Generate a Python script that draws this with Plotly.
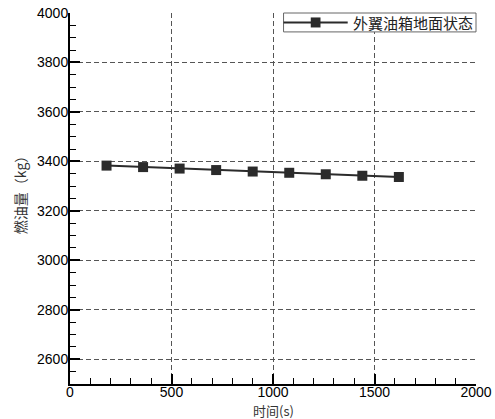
import plotly.graph_objects as go

# Fuel quantity of the outer-wing tank, ground condition
time_s = [180, 360, 540, 720, 900, 1080, 1260, 1440, 1620]
fuel_kg = [3383, 3377, 3371, 3365, 3359, 3354, 3348, 3342, 3337]
series_name = "外翼油箱地面状态"

x_ticks = [0, 500, 1000, 1500, 2000]
y_ticks = [2600, 2800, 3000, 3200, 3400, 3600, 3800, 4000]

mark_color = "#2b2b2b"

fig = go.Figure()
fig.add_trace(go.Scatter(
    x=time_s, y=fuel_kg, name=series_name, mode="lines+markers",
    line=dict(color=mark_color, width=2),
    marker=dict(symbol="square", size=10, color=mark_color),
    showlegend=False,
))

axis_common = dict(
    showline=True, linecolor="black", linewidth=2,
    ticks="inside", ticklen=10, tickwidth=2, tickcolor="black",
    showgrid=True, gridcolor="#555555", gridwidth=1, griddash="5px,3px",
    zeroline=False, mirror=False, automargin=False,
    tickfont=dict(family="Liberation Sans, Arial", size=14, color="black"),
)

fig.update_xaxes(
    range=[0, 2000], tickvals=x_ticks, ticklabelstandoff=-6,
    minor=dict(dtick=100, ticks="inside", ticklen=6, tickwidth=1, tickcolor="black", showgrid=False),
    **axis_common,
)
fig.update_yaxes(
    range=[2500, 4000], tickvals=y_ticks, ticklabelstandoff=-3,
    minor=dict(dtick=50, ticks="inside", ticklen=6, tickwidth=1, tickcolor="black", showgrid=False),
    **axis_common,
)

# axis titles
fig.add_annotation(text="时间(s)", xref="paper", yref="paper", x=0.5, y=0,
                   yshift=-26, xanchor="center", yanchor="middle", showarrow=False,
                   font=dict(family="Noto Sans CJK SC", size=13, color="#333"))
fig.add_annotation(text="燃油量（kg）", xref="paper", yref="paper", x=0, y=0.517,
                   xshift=-50, xanchor="center", yanchor="middle", textangle=-90,
                   showarrow=False,
                   font=dict(family="Noto Sans CJK SC", size=14, color="#333"))

# legend box drawn in the top-right corner of the plot area
lg_x0, lg_x1 = 0.526, 1.0
lg_y0, lg_y1 = 0.949, 1.0
lg_ym = (lg_y0 + lg_y1) / 2
fig.add_shape(type="rect", xref="paper", yref="paper",
              x0=lg_x0, x1=lg_x1, y0=lg_y0, y1=lg_y1,
              line=dict(color="#666", width=1), fillcolor="white", layer="above")
fig.add_shape(type="line", xref="paper", yref="paper",
              x0=lg_x0, x1=0.684, y0=lg_ym, y1=lg_ym,
              line=dict(color=mark_color, width=2), layer="above")
fig.add_shape(type="rect", xref="paper", yref="paper",
              x0=0.593, x1=0.617, y0=lg_ym - 0.0135, y1=lg_ym + 0.0135,
              line=dict(color=mark_color, width=0), fillcolor=mark_color, layer="above")
fig.add_annotation(text=series_name, xref="paper", yref="paper",
                   x=0.998, y=lg_ym, xanchor="right", yanchor="middle", showarrow=False,
                   font=dict(family="Noto Sans CJK SC", size=15, color="#222"))

fig.update_layout(
    width=495, height=419,
    margin=dict(l=70, r=19, t=13, b=35),
    plot_bgcolor="white", paper_bgcolor="white",
    showlegend=False,
)

fig.write_html("out.html")
